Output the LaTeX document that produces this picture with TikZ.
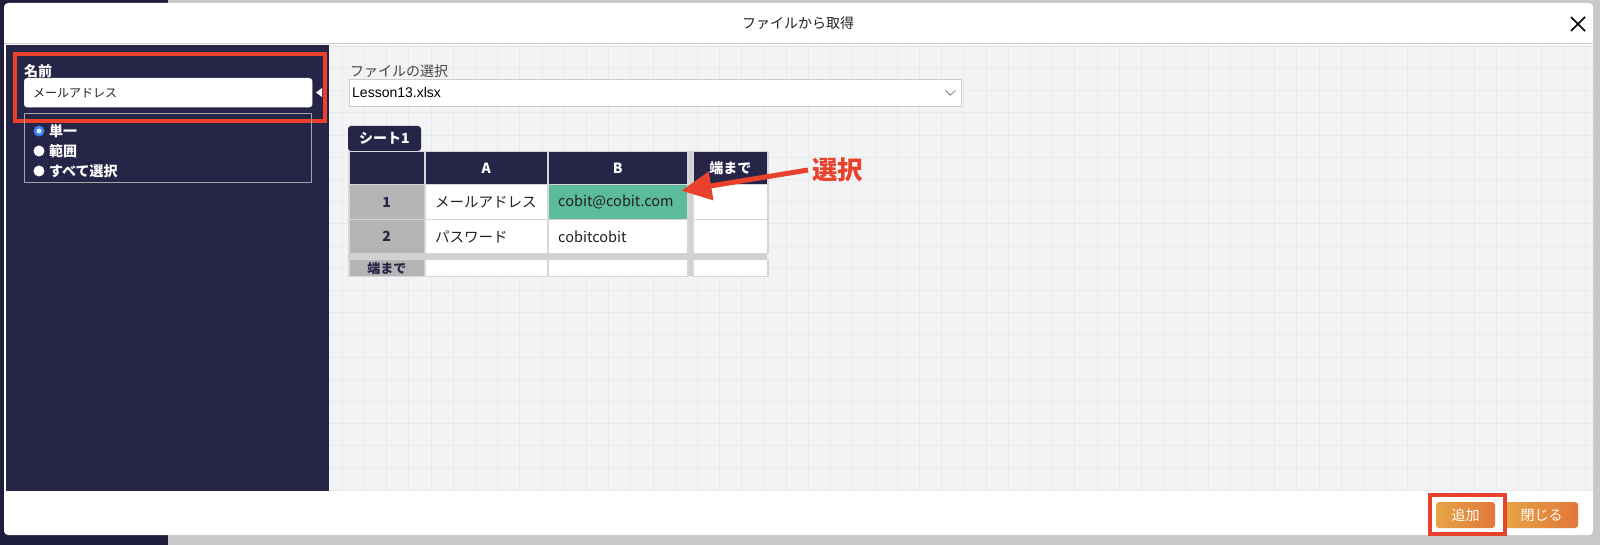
\documentclass[tikz,border=0pt]{standalone}
\usepackage{fontspec}
\setmainfont{Liberation Sans}
\newfontfamily\jp{Noto Sans CJK JP}
\usetikzlibrary{arrows.meta,positioning}
\definecolor{outergray}{HTML}{C8C8C8}
\definecolor{darkstrip}{HTML}{1F1E3C}
\definecolor{navy}{HTML}{262547}
\definecolor{paper}{HTML}{F2F3F5}
\definecolor{gridline}{HTML}{E7E9EC}
\definecolor{markred}{HTML}{E8412C}
\definecolor{rowgray}{HTML}{B4B4B4}
\definecolor{gapgray}{HTML}{D0D0D0}
\definecolor{cellline}{HTML}{D6D6D6}
\definecolor{pickgreen}{HTML}{5CBB9B}
\definecolor{inkdark}{HTML}{222222}
\definecolor{btnleft}{HTML}{E6A445}
\definecolor{btnright}{HTML}{E2773A}
\definecolor{radioblue}{HTML}{3B82F0}
\newcommand\jpf[1]{\jp\fontsize{#1}{#1}\selectfont}
\begin{document}
\begin{tikzpicture}[x=1pt,y=-1pt,
  cell/.style={anchor=north west,inner sep=0pt,draw=cellline,line width=1.5pt},
  headcell/.style={cell,fill=navy,text=white,font=\jpf{14}\bfseries},
  numcell/.style={cell,fill=rowgray,text=navy,font=\jpf{14}\bfseries},
  datacell/.style={cell,fill=white},
  celltext/.style={anchor=west,inner sep=0pt,text=inkdark,font=\jpf{14.5}},
  redbox/.style={draw=markred,line width=4pt},
  radio/.style={circle,fill=white,inner sep=0pt,minimum size=11pt},
  radiotext/.style={anchor=west,inner sep=0pt,text=white,font=\jpf{14}\bfseries},
  button/.style={rounded corners=3pt,left color=btnleft,right color=btnright,text=white,font=\jpf{14},inner sep=0pt,minimum height=26pt}
]
\useasboundingbox (0,0) rectangle (1600,545);
% window behind the dialog
\fill[outergray] (0,0) rectangle (1600,545);
\fill[darkstrip] (0,0) rectangle (168,545);
% dialog
\fill[white,rounded corners=4pt] (4,3) rectangle (1593,535);
\fill[navy] (6,45) rectangle (329,491);
\fill[paper] (329,45) rectangle (1593,491);
\foreach \x in {342,364.2,...,1593} \draw[gridline,line width=0.5pt] (\x,45) -- (\x,491);
\foreach \y in {46,68.2,...,491} \draw[gridline,line width=0.5pt] (329,\y) -- (1593,\y);
\draw[gray!40,line width=1pt] (4,44) -- (1593,44);
\node[font=\jpf{14},text=inkdark] (title) at (798,23) {ファイルから取得};
\coordinate (closex) at (1578,24);
\draw[line width=1.6pt] ([shift={(-7,-7)}]closex) -- ([shift={(7,7)}]closex);
\draw[line width=1.6pt] ([shift={(-7,7)}]closex) -- ([shift={(7,-7)}]closex);

% left panel
\node[anchor=west,inner sep=0pt,text=white,font=\jpf{14}\bfseries] (namelabel) at (24,71) {名前};
\node[draw=white!80!gray,fill=white,rounded corners=3pt,minimum width=288pt,minimum height=29pt,anchor=north west,inner sep=0pt] (namebox) at (24,78) {};
\node[anchor=west,inner sep=0pt,font=\jpf{12},text=inkdark] (nametext) at ([xshift=9pt]namebox.west) {メールアドレス};
\fill[white] (316,92.5) -- (322,88) -- (322,97) -- cycle;
\draw[redbox] (15,54) rectangle (325,121);
\draw[gray!70,line width=1pt] (24,114) rectangle (311,183);
\node[radio,fill=radioblue] (r1) at (39,131) {};
\fill[white!85!radioblue] (r1) circle (2.5pt);
\node[radiotext] (single) at (49,131) {単一};
\node[radio] (r2) at (39,151) {};
\node[radiotext] (range) at (49,151) {範囲};
\node[radio] (r3) at (39,171) {};
\node[radiotext] (all) at (49,171) {すべて選択};

% file select
\node[anchor=west,inner sep=0pt,font=\jpf{14},text=inkdark!85] (filelabel) at (350,71) {ファイルの選択};
\node[draw=gray!40,fill=white,anchor=north west,minimum width=612pt,minimum height=27pt,inner sep=0pt] (filebox) at (349,79) {};
\node[anchor=west,inner sep=0pt,font=\fontsize{14}{14}\selectfont] (filename) at ([xshift=3pt]filebox.west) {Lesson13.xlsx};
\draw[gray,line width=0.8pt] ([xshift=-16pt,yshift=2.5pt]filebox.east) -- ([xshift=-11pt,yshift=-2.5pt]filebox.east) -- ([xshift=-6pt,yshift=2.5pt]filebox.east);

% sheet
\fill[navy,rounded corners=3pt] (348,126) rectangle (421,151);
\node[font=\jpf{14}\bfseries,text=white] (sheet) at (384.5,138) {シート1};
\fill[gapgray] (348,151) rectangle (767,276);
\node[headcell,minimum width=76pt,minimum height=33pt] (corner) at (348,151) {};
\node[headcell,minimum width=123pt,minimum height=33pt] (colA) at (424,151) {A};
\node[headcell,minimum width=140pt,minimum height=33pt] (colB) at (547,151) {B};
\node[headcell,minimum width=75pt,minimum height=33pt] (colEnd) at (692,151) {端まで};
\node[numcell,minimum width=76pt,minimum height=35pt] (row1) at (348,184) {1};
\node[datacell,minimum width=123pt,minimum height=35pt] (a1) at (424,184) {};
\node[datacell,fill=pickgreen,minimum width=140pt,minimum height=35pt] (b1) at (547,184) {};
\node[datacell,minimum width=75pt,minimum height=35pt] (e1) at (692,184) {};
\node[numcell,minimum width=76pt,minimum height=34pt] (row2) at (348,219) {2};
\node[datacell,minimum width=123pt,minimum height=34pt] (a2) at (424,219) {};
\node[datacell,minimum width=140pt,minimum height=34pt] (b2) at (547,219) {};
\node[datacell,minimum width=75pt,minimum height=34pt] (e2) at (692,219) {};
\node[numcell,minimum width=76pt,minimum height=17pt,font=\jpf{13}\bfseries] (rowEnd) at (348,259) {端まで};
\node[datacell,minimum width=123pt,minimum height=17pt] (a3) at (424,259) {};
\node[datacell,minimum width=140pt,minimum height=17pt] (b3) at (547,259) {};
\node[datacell,minimum width=75pt,minimum height=17pt] (e3) at (692,259) {};
\node[celltext] (a1t) at ([xshift=11pt]a1.west) {メールアドレス};
\node[celltext] (b1t) at ([xshift=11pt]b1.west) {cobit@cobit.com};
\node[celltext] (a2t) at ([xshift=11pt]a2.west) {パスワード};
\node[celltext] (b2t) at ([xshift=11pt]b2.west) {cobitcobit};

% pick mark
\node[font=\jpf{25.5}\bfseries,text=markred,anchor=west,inner sep=0pt] (pick) at (812,170) {選択};
\draw[-{Triangle[length=30pt,width=28pt]},markred,line width=5pt] ([xshift=-4pt]pick.west) -- ([xshift=-7pt,yshift=11.5pt]b1.east);

% footer buttons
\node[button,minimum width=59pt] (add) at (1465.5,515) {追加};
\node[button,minimum width=73pt] (closebtn) at (1541.5,515) {閉じる};
\draw[redbox] (1430,495) rectangle (1505,534);
\end{tikzpicture}
\end{document}
